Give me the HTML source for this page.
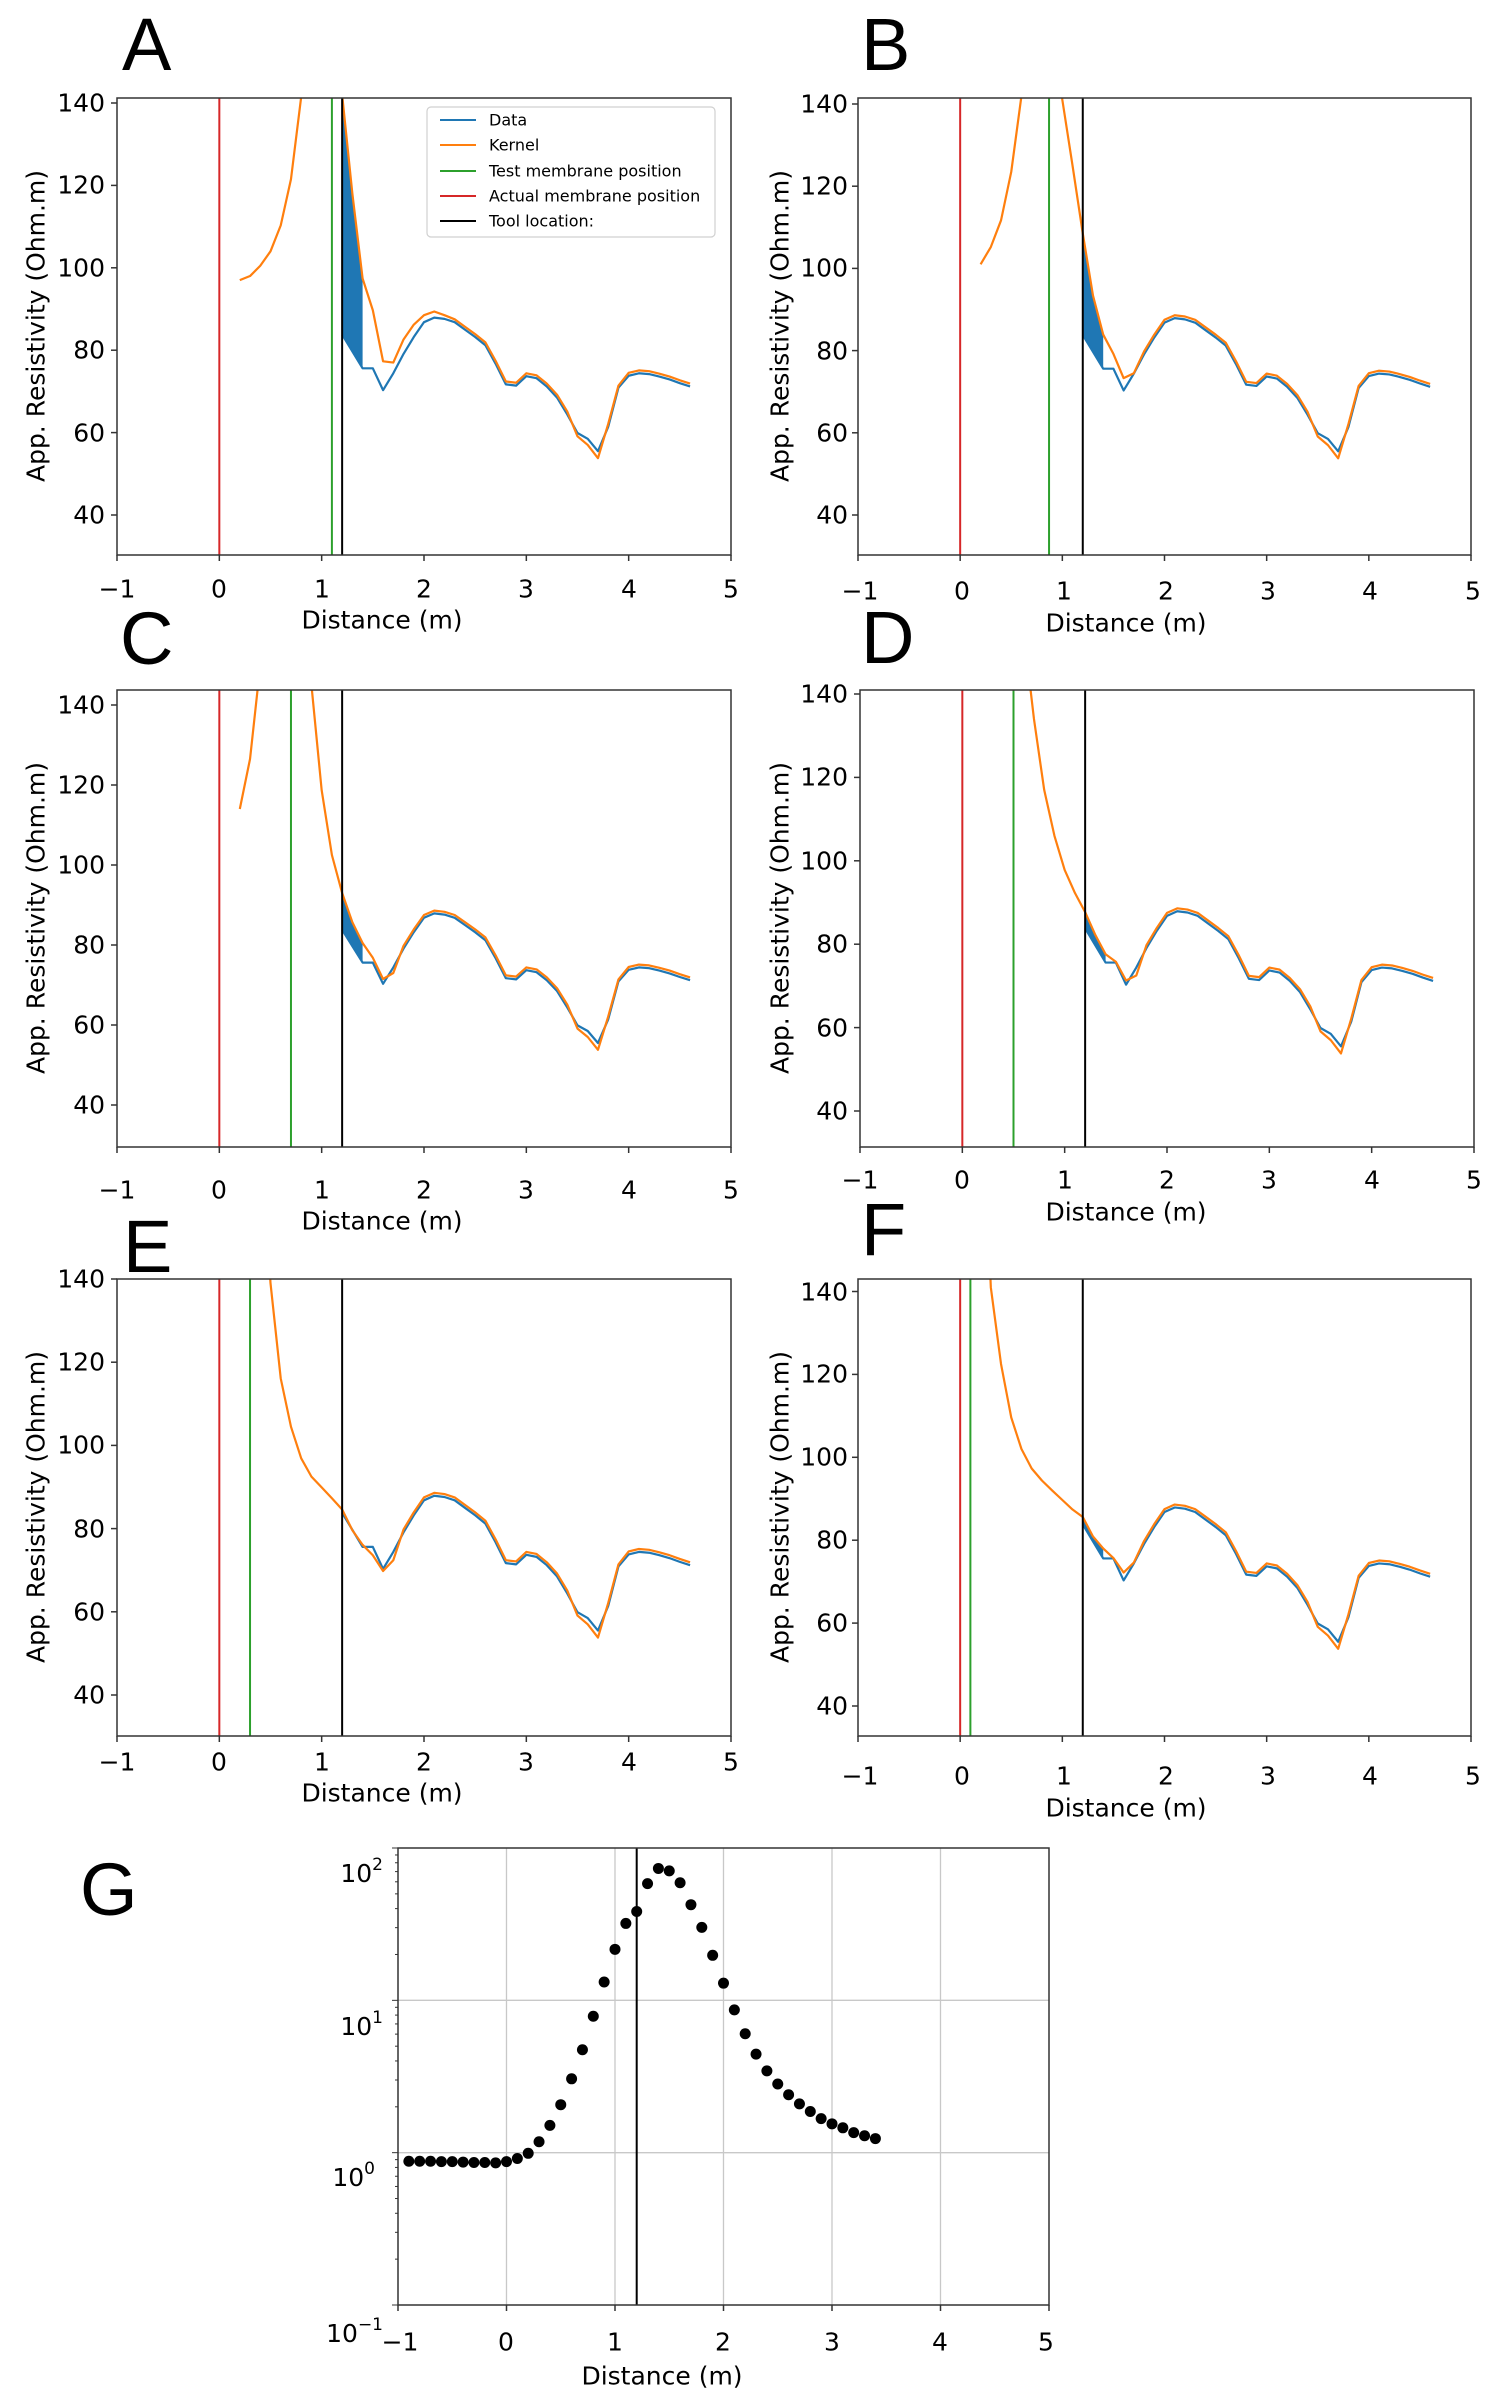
<!DOCTYPE html>
<html><head><meta charset="utf-8"><style>
html,body{margin:0;padding:0;background:#fff;}
svg{display:block;}
text{font-family:"DejaVu Sans","Liberation Sans",sans-serif;fill:#000;}
.t{font-size:25px;}
.lab{font-family:"Liberation Sans",sans-serif;font-size:74px;}
.lg{font-size:16px;}
</style></head><body>
<svg id="s" width="1504" height="2404" viewBox="0 0 1504 2404" xmlns="http://www.w3.org/2000/svg">
<rect width="1504" height="2404" fill="#fff"/>
<g id="gfx"></g>
<text class="lab" x="122" y="70">A</text>
<text class="lab" x="861" y="70">B</text>
<text class="lab" x="120" y="664">C</text>
<text class="lab" x="861" y="663">D</text>
<text class="lab" x="123" y="1272">E</text>
<text class="lab" x="861" y="1255">F</text>
<text class="lab" x="80" y="1915">G</text>

<!-- A -->
<g class="t" text-anchor="middle" dominant-baseline="central">
<text x="117" y="589">−1</text><text x="219" y="589">0</text><text x="322" y="589">1</text><text x="424" y="589">2</text><text x="526" y="589">3</text><text x="629" y="589">4</text><text x="731" y="589">5</text>
<text x="382" y="620">Distance (m)</text>
</g>
<g class="t" text-anchor="end" dominant-baseline="central">
<text x="105" y="103">140</text><text x="105" y="185">120</text><text x="105" y="268">100</text><text x="105" y="350">80</text><text x="105" y="433">60</text><text x="105" y="515">40</text>
</g>
<text class="t" text-anchor="middle" dominant-baseline="central" transform="translate(36,326) rotate(-90)">App. Resistivity (Ohm.m)</text>

<!-- B -->
<g class="t" text-anchor="middle" dominant-baseline="central">
<text x="860" y="591">−1</text><text x="962" y="591">0</text><text x="1064" y="591">1</text><text x="1166" y="591">2</text><text x="1268" y="591">3</text><text x="1370" y="591">4</text><text x="1473" y="591">5</text>
<text x="1126" y="623">Distance (m)</text>
</g>
<g class="t" text-anchor="end" dominant-baseline="central">
<text x="848" y="104">140</text><text x="848" y="186">120</text><text x="848" y="268">100</text><text x="848" y="351">80</text><text x="848" y="433">60</text><text x="848" y="515">40</text>
</g>
<text class="t" text-anchor="middle" dominant-baseline="central" transform="translate(780,326) rotate(-90)">App. Resistivity (Ohm.m)</text>

<!-- C -->
<g class="t" text-anchor="middle" dominant-baseline="central">
<text x="117" y="1190">−1</text><text x="219" y="1190">0</text><text x="322" y="1190">1</text><text x="424" y="1190">2</text><text x="526" y="1190">3</text><text x="629" y="1190">4</text><text x="731" y="1190">5</text>
<text x="382" y="1221">Distance (m)</text>
</g>
<g class="t" text-anchor="end" dominant-baseline="central">
<text x="105" y="705">140</text><text x="105" y="785">120</text><text x="105" y="865">100</text><text x="105" y="945">80</text><text x="105" y="1025">60</text><text x="105" y="1105">40</text>
</g>
<text class="t" text-anchor="middle" dominant-baseline="central" transform="translate(36,918) rotate(-90)">App. Resistivity (Ohm.m)</text>

<!-- D -->
<g class="t" text-anchor="middle" dominant-baseline="central">
<text x="860" y="1180">−1</text><text x="962" y="1180">0</text><text x="1065" y="1180">1</text><text x="1167" y="1180">2</text><text x="1269" y="1180">3</text><text x="1372" y="1180">4</text><text x="1474" y="1180">5</text>
<text x="1126" y="1212">Distance (m)</text>
</g>
<g class="t" text-anchor="end" dominant-baseline="central">
<text x="848" y="694">140</text><text x="848" y="777">120</text><text x="848" y="861">100</text><text x="848" y="944">80</text><text x="848" y="1028">60</text><text x="848" y="1111">40</text>
</g>
<text class="t" text-anchor="middle" dominant-baseline="central" transform="translate(780,918) rotate(-90)">App. Resistivity (Ohm.m)</text>

<!-- E -->
<g class="t" text-anchor="middle" dominant-baseline="central">
<text x="117" y="1762">−1</text><text x="219" y="1762">0</text><text x="322" y="1762">1</text><text x="424" y="1762">2</text><text x="526" y="1762">3</text><text x="629" y="1762">4</text><text x="731" y="1762">5</text>
<text x="382" y="1793">Distance (m)</text>
</g>
<g class="t" text-anchor="end" dominant-baseline="central">
<text x="105" y="1279">140</text><text x="105" y="1362">120</text><text x="105" y="1445">100</text><text x="105" y="1529">80</text><text x="105" y="1612">60</text><text x="105" y="1695">40</text>
</g>
<text class="t" text-anchor="middle" dominant-baseline="central" transform="translate(36,1507) rotate(-90)">App. Resistivity (Ohm.m)</text>

<!-- F -->
<g class="t" text-anchor="middle" dominant-baseline="central">
<text x="860" y="1776">−1</text><text x="962" y="1776">0</text><text x="1064" y="1776">1</text><text x="1166" y="1776">2</text><text x="1268" y="1776">3</text><text x="1370" y="1776">4</text><text x="1473" y="1776">5</text>
<text x="1126" y="1808">Distance (m)</text>
</g>
<g class="t" text-anchor="end" dominant-baseline="central">
<text x="848" y="1292">140</text><text x="848" y="1374">120</text><text x="848" y="1457">100</text><text x="848" y="1540">80</text><text x="848" y="1623">60</text><text x="848" y="1706">40</text>
</g>
<text class="t" text-anchor="middle" dominant-baseline="central" transform="translate(780,1507) rotate(-90)">App. Resistivity (Ohm.m)</text>

<!-- G -->
<g class="t" text-anchor="middle" dominant-baseline="central">
<text x="400" y="2342">−1</text><text x="506" y="2342">0</text><text x="615" y="2342">1</text><text x="723" y="2342">2</text><text x="832" y="2342">3</text><text x="940" y="2342">4</text><text x="1046" y="2342">5</text>
<text x="662" y="2376">Distance (m)</text>
</g>
<g class="t" text-anchor="end">
<text x="383" y="1882">10<tspan dy="-12" font-size="17">2</tspan></text>
<text x="383" y="2035">10<tspan dy="-12" font-size="17">1</tspan></text>
<text x="375" y="2186">10<tspan dy="-12" font-size="17">0</tspan></text>
<text x="383" y="2342">10<tspan dy="-12" font-size="17">−1</tspan></text>
</g>

<rect x="427" y="107" width="288" height="130" rx="4" fill="#fff" fill-opacity="0.85" stroke="#d0d0d0" stroke-width="1.2"/>
<line x1="440" y1="120" x2="476" y2="120" stroke="#1f77b4" stroke-width="2"/>
<line x1="440" y1="145" x2="476" y2="145" stroke="#ff7f0e" stroke-width="2"/>
<line x1="440" y1="171" x2="476" y2="171" stroke="#2ca02c" stroke-width="2"/>
<line x1="440" y1="196" x2="476" y2="196" stroke="#d62728" stroke-width="2"/>
<line x1="440" y1="221" x2="476" y2="221" stroke="#000" stroke-width="2"/>
<g class="lg" dominant-baseline="central">
<text x="489" y="120">Data</text>
<text x="489" y="145">Kernel</text>
<text x="489" y="171">Test membrane position</text>
<text x="489" y="196">Actual membrane position</text>
<text x="489" y="221">Tool location:</text>
</g>
</svg>
<script>
(function(){
var NS="http://www.w3.org/2000/svg",g=document.getElementById("gfx");
function el(n,a,p){var e=document.createElementNS(NS,n);for(var k in a)e.setAttribute(k,a[k]);(p||g).appendChild(e);return e;}
var data=[83.8,79.7,75.6,75.6,70.3,74.4,79.1,83.2,86.8,87.9,87.6,86.8,85.0,83.2,81.2,76.7,71.7,71.4,73.7,73.2,71.2,68.5,64.4,59.9,58.5,55.5,61.4,70.9,73.8,74.4,74.2,73.6,72.9,72.0,71.2];
var tail=[];for(var i=6;i<data.length;i++){tail.push(data[i]+0.7);}
function setT(x,v,arr){arr[Math.round((x-1.8)*10)]=v;}
setT(3.5,59.1,tail);setT(3.6,57.0,tail);setT(3.7,53.8,tail);setT(3.9,71.4,tail);
var P=[
 {L:117,R:731,T:98,B:555,y140:103,y40:515,test:1.1,head:[97,98,100.5,104,110.3,121.5,141.5,170,220,260,142,118,97.4,89.7,77.3,77],A:1},
 {L:858,R:1471,T:98,B:555,y140:104,y40:515,test:0.87,head:[101,105.2,111.7,123.5,142,200,250,170,141,125,108.5,93.4,83.9,79.2,73.3,74.5]},
 {L:117,R:731,T:690,B:1147,y140:705,y40:1105,test:0.7,head:[114,126.5,150,220,260,260,200,145,118.7,102.5,93,85.7,80.5,76.8,71.5,73]},
 {L:860,R:1474,T:690,B:1147,y140:694,y40:1111,test:0.5,head:[400,350,300,200,155,134,117,106,97.8,92.3,87.7,82.2,77.6,75.8,71.3,72.5]},
 {L:117,R:731,T:1279,B:1736,y140:1279,y40:1695,test:0.3,head:[300,250,180,139,116.1,104.5,96.9,92.5,89.9,87.3,84.6,79.6,76.1,73.6,69.8,72.4]},
 {L:858,R:1471,T:1279,B:1736,y140:1291.5,y40:1706,test:0.1,head:[200,141,122.5,109.6,102,97.3,94.4,92,89.7,87.4,85.6,80.9,78,75.7,72.2,74.6]}
];
P.forEach(function(p,idx){
 var xu=(p.R-p.L)/6,yu=(p.y40-p.y140)/100;
 function X(v){return p.L+(v+1)*xu;} function Y(v){return p.y140+(140-v)*yu;}
 var cid="c"+idx;var cp=el("clipPath",{id:cid});el("rect",{x:p.L,y:p.T,width:p.R-p.L,height:p.B-p.T},cp);
 var cg=el("g",{"clip-path":"url(#"+cid+")"});
 var k=p.head.slice();var t=tail.slice();
 if(p.A){t[0]=82.6;t[1]=86.2;t[2]=88.5;t[3]=89.4;t[4]=88.5;}
 k=k.concat(t);
 var fp=[];for(var i=0;i<=2;i++)fp.push(X(1.2+i*0.1)+","+Y(k[10+i]));for(var i=2;i>=0;i--)fp.push(X(1.2+i*0.1)+","+Y(data[i]));
 el("polygon",{points:fp.join(" "),fill:"#1f77b4"},cg);
 var dp=data.map(function(v,i){return X(1.2+i*0.1)+","+Y(v);}).join(" ");
 el("polyline",{points:dp,fill:"none",stroke:"#1f77b4","stroke-width":2.2,"stroke-linejoin":"round"},cg);
 var kp=k.map(function(v,i){return X(0.2+i*0.1)+","+Y(v);}).join(" ");
 el("polyline",{points:kp,fill:"none",stroke:"#ff7f0e","stroke-width":2.2,"stroke-linejoin":"round"},cg);
 el("line",{x1:X(p.test),x2:X(p.test),y1:p.T,y2:p.B,stroke:"#2ca02c","stroke-width":2},cg);
 el("line",{x1:X(0),x2:X(0),y1:p.T,y2:p.B,stroke:"#d62728","stroke-width":2},cg);
 el("line",{x1:X(1.2),x2:X(1.2),y1:p.T,y2:p.B,stroke:"#000","stroke-width":2},cg);
 el("rect",{x:p.L,y:p.T,width:p.R-p.L,height:p.B-p.T,fill:"none",stroke:"#333","stroke-width":1.5});
 for(var v=-1;v<=5;v++)el("line",{x1:X(v),x2:X(v),y1:p.B,y2:p.B+6,stroke:"#333","stroke-width":1.5});
 for(var v=40;v<=140;v+=20)el("line",{x1:p.L-6,x2:p.L,y1:Y(v),y2:Y(v),stroke:"#333","stroke-width":1.5});
});
var L=398,R=1049,T=1848,B=2305,xu=(R-L)/6,dec=(B-T)/3;
function GX(v){return L+(v+1)*xu;} function GY(v){return B-(Math.log10(v)+1)*dec;}
for(var v=0;v<=4;v++)el("line",{x1:GX(v),x2:GX(v),y1:T,y2:B,stroke:"#c8c8c8","stroke-width":1.3});
[1,10].forEach(function(v){el("line",{x1:L,x2:R,y1:GY(v),y2:GY(v),stroke:"#c8c8c8","stroke-width":1.3});});
el("line",{x1:GX(1.2),x2:GX(1.2),y1:T,y2:B,stroke:"#000","stroke-width":2});
var py=[957,957,957,958,958,959,960,960,961,958,950,937,908,867,815,750,677,593,507,425,360,330,260,222,228,258,313,370,440,510,577,637,688,730,763,790,813,832,850,863,873,885,893,900];
py.forEach(function(y,i){el("circle",{cx:GX(-0.9+i*0.1),cy:1780+y/2.51,r:5.5,fill:"#000"});});
el("rect",{x:L,y:T,width:R-L,height:B-T,fill:"none",stroke:"#333","stroke-width":1.5});
for(var v=-1;v<=5;v++)el("line",{x1:GX(v),x2:GX(v),y1:B,y2:B+6,stroke:"#333","stroke-width":1.5});
for(var d=-1;d<2;d++){for(var m=1;m<10;m++){var yy=GY(m*Math.pow(10,d));el("line",{x1:L-(m==1?6:3),x2:L,y1:yy,y2:yy,stroke:"#333","stroke-width":1});}}
el("line",{x1:L-6,x2:L,y1:T,y2:T,stroke:"#333","stroke-width":1});
})();
</script>
</body></html>
